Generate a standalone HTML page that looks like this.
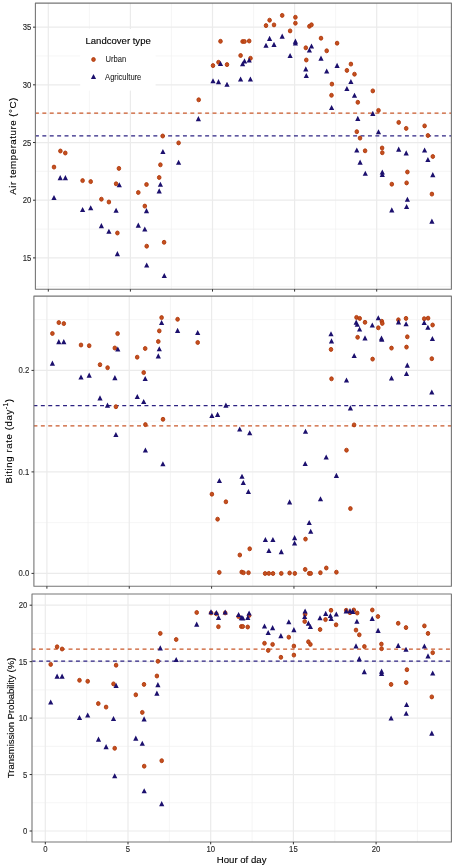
<!DOCTYPE html><html><head><meta charset="utf-8"><style>html,body{margin:0;padding:0;background:#fff;width:454px;height:867px;overflow:hidden}svg{display:block;filter:blur(0.35px)}text{font-family:"Liberation Sans",sans-serif}</style></head><body>
<svg width="454" height="867" viewBox="0 0 454 867">
<rect width="454" height="867" fill="#fff"/>
<path d="M89.35,3.1V289.2M171.45,3.1V289.2M253.55,3.1V289.2M335.65,3.1V289.2M417.75,3.1V289.2M35.4,286.74H451.4M35.4,229.06H451.4M35.4,171.37H451.4M35.4,113.68H451.4M35.4,55.99H451.4" stroke="#f0f0f0" stroke-width="0.7" fill="none"/>
<path d="M48.3,3.1V289.2M130.4,3.1V289.2M212.5,3.1V289.2M294.6,3.1V289.2M376.7,3.1V289.2M35.4,257.9H451.4M35.4,200.21H451.4M35.4,142.53H451.4M35.4,84.84H451.4M35.4,27.15H451.4" stroke="#ebebeb" stroke-width="1.2" fill="none"/>
<rect x="80.2" y="29.0" width="75.4" height="61.6" fill="#fff"/>
<line x1="35.4" y1="113" x2="451.4" y2="113" stroke="#c9582a" stroke-width="1.25" stroke-dasharray="3.95 3.45" stroke-dashoffset="0.45"/>
<line x1="35.4" y1="135.9" x2="451.4" y2="135.9" stroke="#2c2282" stroke-width="1.25" stroke-dasharray="3.95 3.45" stroke-dashoffset="0.45"/>
<g fill="#c4501f" stroke="#b0380a" stroke-width="0.9"><ellipse cx="54" cy="167.1" rx="1.8" ry="2.0"/><ellipse cx="60.4" cy="151" rx="1.8" ry="2.0"/><ellipse cx="65.3" cy="153" rx="1.8" ry="2.0"/><ellipse cx="82.6" cy="180.6" rx="1.8" ry="2.0"/><ellipse cx="90.7" cy="181.6" rx="1.8" ry="2.0"/><ellipse cx="101.4" cy="199.2" rx="1.8" ry="2.0"/><ellipse cx="108.9" cy="202" rx="1.8" ry="2.0"/><ellipse cx="116.1" cy="183.8" rx="1.8" ry="2.0"/><ellipse cx="118.9" cy="168.4" rx="1.8" ry="2.0"/><ellipse cx="117.4" cy="233" rx="1.8" ry="2.0"/><ellipse cx="138.3" cy="192.5" rx="1.8" ry="2.0"/><ellipse cx="144.8" cy="206.1" rx="1.8" ry="2.0"/><ellipse cx="146.5" cy="184.5" rx="1.8" ry="2.0"/><ellipse cx="146.7" cy="246.2" rx="1.8" ry="2.0"/><ellipse cx="159.2" cy="177.5" rx="1.8" ry="2.0"/><ellipse cx="160.4" cy="164.8" rx="1.8" ry="2.0"/><ellipse cx="162.7" cy="136" rx="1.8" ry="2.0"/><ellipse cx="164.1" cy="242.3" rx="1.8" ry="2.0"/><ellipse cx="178.6" cy="142.9" rx="1.8" ry="2.0"/><ellipse cx="198.7" cy="99.8" rx="1.8" ry="2.0"/><ellipse cx="213" cy="65.6" rx="1.8" ry="2.0"/><ellipse cx="218.5" cy="62.3" rx="1.8" ry="2.0"/><ellipse cx="220.5" cy="41.3" rx="1.8" ry="2.0"/><ellipse cx="227" cy="64.6" rx="1.8" ry="2.0"/><ellipse cx="240.6" cy="55.5" rx="1.8" ry="2.0"/><ellipse cx="242.6" cy="41.5" rx="1.8" ry="2.0"/><ellipse cx="244.5" cy="41.5" rx="1.8" ry="2.0"/><ellipse cx="249.2" cy="41" rx="1.8" ry="2.0"/><ellipse cx="250.5" cy="58.3" rx="1.8" ry="2.0"/><ellipse cx="266" cy="25.6" rx="1.8" ry="2.0"/><ellipse cx="269.6" cy="20.2" rx="1.8" ry="2.0"/><ellipse cx="274" cy="24.9" rx="1.8" ry="2.0"/><ellipse cx="282.2" cy="15.4" rx="1.8" ry="2.0"/><ellipse cx="290.1" cy="30.9" rx="1.8" ry="2.0"/><ellipse cx="295.4" cy="17.3" rx="1.8" ry="2.0"/><ellipse cx="295.4" cy="23.2" rx="1.8" ry="2.0"/><ellipse cx="305.8" cy="47.8" rx="1.8" ry="2.0"/><ellipse cx="306.3" cy="60" rx="1.8" ry="2.0"/><ellipse cx="309.4" cy="26.3" rx="1.8" ry="2.0"/><ellipse cx="311.5" cy="24.8" rx="1.8" ry="2.0"/><ellipse cx="321" cy="38.2" rx="1.8" ry="2.0"/><ellipse cx="326.7" cy="50.8" rx="1.8" ry="2.0"/><ellipse cx="331.9" cy="84.1" rx="1.8" ry="2.0"/><ellipse cx="331.5" cy="95.3" rx="1.8" ry="2.0"/><ellipse cx="337.1" cy="43.2" rx="1.8" ry="2.0"/><ellipse cx="346.9" cy="70.4" rx="1.8" ry="2.0"/><ellipse cx="350.9" cy="64.1" rx="1.8" ry="2.0"/><ellipse cx="354.5" cy="74.2" rx="1.8" ry="2.0"/><ellipse cx="356.8" cy="131.7" rx="1.8" ry="2.0"/><ellipse cx="357.8" cy="102.3" rx="1.8" ry="2.0"/><ellipse cx="360" cy="138.1" rx="1.8" ry="2.0"/><ellipse cx="365.1" cy="150.8" rx="1.8" ry="2.0"/><ellipse cx="372.8" cy="90.9" rx="1.8" ry="2.0"/><ellipse cx="378.5" cy="110.4" rx="1.8" ry="2.0"/><ellipse cx="382.1" cy="148" rx="1.8" ry="2.0"/><ellipse cx="382.3" cy="152.7" rx="1.8" ry="2.0"/><ellipse cx="391.8" cy="184.2" rx="1.8" ry="2.0"/><ellipse cx="398.7" cy="122.4" rx="1.8" ry="2.0"/><ellipse cx="406.2" cy="128.4" rx="1.8" ry="2.0"/><ellipse cx="406.6" cy="182.9" rx="1.8" ry="2.0"/><ellipse cx="407.4" cy="172" rx="1.8" ry="2.0"/><ellipse cx="424.6" cy="125.9" rx="1.8" ry="2.0"/><ellipse cx="427.9" cy="135.5" rx="1.8" ry="2.0"/><ellipse cx="431.9" cy="194.1" rx="1.8" ry="2.0"/><ellipse cx="432.8" cy="156.5" rx="1.8" ry="2.0"/></g>
<path fill="#1c106e" d="M54,195l2.6,5.1h-5.2zM60.2,175.1l2.6,5.1h-5.2zM65.4,175.1l2.6,5.1h-5.2zM82.6,206.9l2.6,5.1h-5.2zM90.7,205.2l2.6,5.1h-5.2zM101.4,223.1l2.6,5.1h-5.2zM108.9,228.7l2.6,5.1h-5.2zM116.1,207.7l2.6,5.1h-5.2zM117.4,251.1l2.6,5.1h-5.2zM119.3,182.2l2.6,5.1h-5.2zM138.3,222.6l2.6,5.1h-5.2zM144.8,226.5l2.6,5.1h-5.2zM146.5,208.1l2.6,5.1h-5.2zM146.7,262.4l2.6,5.1h-5.2zM159.2,188.3l2.6,5.1h-5.2zM160.4,181.7l2.6,5.1h-5.2zM162.9,148.9l2.6,5.1h-5.2zM164.3,273l2.6,5.1h-5.2zM178.6,159.7l2.6,5.1h-5.2zM198.4,116.1l2.6,5.1h-5.2zM213,78.2l2.6,5.1h-5.2zM218.5,79.1l2.6,5.1h-5.2zM220.5,61l2.6,5.1h-5.2zM227,81.7l2.6,5.1h-5.2zM240.6,76.4l2.6,5.1h-5.2zM242.6,61.2l2.6,5.1h-5.2zM244.5,58.3l2.6,5.1h-5.2zM249.2,57.4l2.6,5.1h-5.2zM250.4,76.4l2.6,5.1h-5.2zM266,42.7l2.6,5.1h-5.2zM269.6,35.8l2.6,5.1h-5.2zM274,41.8l2.6,5.1h-5.2zM282.2,33.6l2.6,5.1h-5.2zM290.1,53l2.6,5.1h-5.2zM295.4,38.6l2.6,5.1h-5.2zM295.4,40.5l2.6,5.1h-5.2zM305.8,66.3l2.6,5.1h-5.2zM306.3,73l2.6,5.1h-5.2zM309.4,47.5l2.6,5.1h-5.2zM311.5,43.4l2.6,5.1h-5.2zM321,55.6l2.6,5.1h-5.2zM326.7,68.5l2.6,5.1h-5.2zM331.6,105l2.6,5.1h-5.2zM337.1,62.8l2.6,5.1h-5.2zM346.9,86l2.6,5.1h-5.2zM350.9,79l2.6,5.1h-5.2zM354.5,92.7l2.6,5.1h-5.2zM356.8,147.5l2.6,5.1h-5.2zM357.8,115.8l2.6,5.1h-5.2zM360.1,159.6l2.6,5.1h-5.2zM365.3,170.7l2.6,5.1h-5.2zM372.8,110.8l2.6,5.1h-5.2zM378.5,129.2l2.6,5.1h-5.2zM382.3,169.5l2.6,5.1h-5.2zM382.3,172l2.6,5.1h-5.2zM391.8,207.3l2.6,5.1h-5.2zM398.7,146.6l2.6,5.1h-5.2zM406.2,150.3l2.6,5.1h-5.2zM406.6,204l2.6,5.1h-5.2zM407.4,196.7l2.6,5.1h-5.2zM424.6,147.4l2.6,5.1h-5.2zM427.9,157l2.6,5.1h-5.2zM431.9,218.6l2.6,5.1h-5.2zM432.8,172.1l2.6,5.1h-5.2z"/>
<rect x="35.4" y="3.1" width="416" height="286.1" fill="none" stroke="#767676" stroke-width="1.1" stroke-linejoin="round"/>
<path d="M33,257.9H35.4M33,200.21H35.4M33,142.53H35.4M33,84.84H35.4M33,27.15H35.4M48.3,289.2V291.6M130.4,289.2V291.6M212.5,289.2V291.6M294.6,289.2V291.6M376.7,289.2V291.6" stroke="#333" stroke-width="1" fill="none"/>
<text transform="translate(31.3,260.9) scale(1,1.15)" font-size="7.75" fill="#2a2a2a" stroke="#2a2a2a" stroke-width="0.12" text-anchor="end">15</text>
<text transform="translate(31.3,203.21) scale(1,1.15)" font-size="7.75" fill="#2a2a2a" stroke="#2a2a2a" stroke-width="0.12" text-anchor="end">20</text>
<text transform="translate(31.3,145.53) scale(1,1.15)" font-size="7.75" fill="#2a2a2a" stroke="#2a2a2a" stroke-width="0.12" text-anchor="end">25</text>
<text transform="translate(31.3,87.84) scale(1,1.15)" font-size="7.75" fill="#2a2a2a" stroke="#2a2a2a" stroke-width="0.12" text-anchor="end">30</text>
<text transform="translate(31.3,30.15) scale(1,1.15)" font-size="7.75" fill="#2a2a2a" stroke="#2a2a2a" stroke-width="0.12" text-anchor="end">35</text>
<path d="M88.07,296.1V586.3M170.42,296.1V586.3M252.78,296.1V586.3M335.12,296.1V586.3M417.47,296.1V586.3M33.9,522.65H451.4M33.9,421.15H451.4M33.9,319.65H451.4" stroke="#f0f0f0" stroke-width="0.7" fill="none"/>
<path d="M46.9,296.1V586.3M129.25,296.1V586.3M211.6,296.1V586.3M293.95,296.1V586.3M376.3,296.1V586.3M33.9,573.4H451.4M33.9,471.9H451.4M33.9,370.4H451.4" stroke="#ebebeb" stroke-width="1.2" fill="none"/>
<line x1="33.9" y1="405.6" x2="451.4" y2="405.6" stroke="#2c2282" stroke-width="1.25" stroke-dasharray="3.95 3.45" stroke-dashoffset="0.45"/>
<line x1="33.9" y1="425.9" x2="451.4" y2="425.9" stroke="#c9582a" stroke-width="1.25" stroke-dasharray="3.95 3.45" stroke-dashoffset="0.45"/>
<g fill="#c4501f" stroke="#b0380a" stroke-width="0.9"><ellipse cx="52.4" cy="333.5" rx="1.8" ry="2.0"/><ellipse cx="58.8" cy="322.6" rx="1.8" ry="2.0"/><ellipse cx="63.8" cy="323.6" rx="1.8" ry="2.0"/><ellipse cx="81" cy="345" rx="1.8" ry="2.0"/><ellipse cx="89.2" cy="345.7" rx="1.8" ry="2.0"/><ellipse cx="100" cy="364.7" rx="1.8" ry="2.0"/><ellipse cx="107.6" cy="367.7" rx="1.8" ry="2.0"/><ellipse cx="114.8" cy="348" rx="1.8" ry="2.0"/><ellipse cx="117.6" cy="333.6" rx="1.8" ry="2.0"/><ellipse cx="115.9" cy="406.7" rx="1.8" ry="2.0"/><ellipse cx="137.2" cy="357.2" rx="1.8" ry="2.0"/><ellipse cx="143.7" cy="372.6" rx="1.8" ry="2.0"/><ellipse cx="145.2" cy="348.5" rx="1.8" ry="2.0"/><ellipse cx="145.4" cy="424.6" rx="1.8" ry="2.0"/><ellipse cx="158.3" cy="341.5" rx="1.8" ry="2.0"/><ellipse cx="159.3" cy="330.9" rx="1.8" ry="2.0"/><ellipse cx="161.6" cy="317.6" rx="1.8" ry="2.0"/><ellipse cx="163" cy="419.3" rx="1.8" ry="2.0"/><ellipse cx="177.6" cy="319.3" rx="1.8" ry="2.0"/><ellipse cx="197.7" cy="342.5" rx="1.8" ry="2.0"/><ellipse cx="211.9" cy="494.2" rx="1.8" ry="2.0"/><ellipse cx="217.6" cy="519.2" rx="1.8" ry="2.0"/><ellipse cx="219.3" cy="572.4" rx="1.8" ry="2.0"/><ellipse cx="225.9" cy="501.8" rx="1.8" ry="2.0"/><ellipse cx="239.8" cy="555" rx="1.8" ry="2.0"/><ellipse cx="241.7" cy="572.1" rx="1.8" ry="2.0"/><ellipse cx="243.5" cy="572.7" rx="1.8" ry="2.0"/><ellipse cx="248.5" cy="572.7" rx="1.8" ry="2.0"/><ellipse cx="249.7" cy="548.8" rx="1.8" ry="2.0"/><ellipse cx="265.1" cy="573.5" rx="1.8" ry="2.0"/><ellipse cx="268.8" cy="573.4" rx="1.8" ry="2.0"/><ellipse cx="273" cy="573.5" rx="1.8" ry="2.0"/><ellipse cx="281.3" cy="573.4" rx="1.8" ry="2.0"/><ellipse cx="289.6" cy="573" rx="1.8" ry="2.0"/><ellipse cx="294.8" cy="573.4" rx="1.8" ry="2.0"/><ellipse cx="305.5" cy="539.1" rx="1.8" ry="2.0"/><ellipse cx="305.2" cy="569.4" rx="1.8" ry="2.0"/><ellipse cx="309.2" cy="573.4" rx="1.8" ry="2.0"/><ellipse cx="310.7" cy="573.4" rx="1.8" ry="2.0"/><ellipse cx="320.4" cy="572.7" rx="1.8" ry="2.0"/><ellipse cx="326.3" cy="568" rx="1.8" ry="2.0"/><ellipse cx="331" cy="349.4" rx="1.8" ry="2.0"/><ellipse cx="331.5" cy="378.8" rx="1.8" ry="2.0"/><ellipse cx="336.4" cy="572.2" rx="1.8" ry="2.0"/><ellipse cx="346.5" cy="450.2" rx="1.8" ry="2.0"/><ellipse cx="350.4" cy="508.6" rx="1.8" ry="2.0"/><ellipse cx="354.1" cy="424.9" rx="1.8" ry="2.0"/><ellipse cx="356.5" cy="317.4" rx="1.8" ry="2.0"/><ellipse cx="357.6" cy="337.3" rx="1.8" ry="2.0"/><ellipse cx="359.7" cy="318.4" rx="1.8" ry="2.0"/><ellipse cx="365" cy="322.3" rx="1.8" ry="2.0"/><ellipse cx="372.6" cy="359.1" rx="1.8" ry="2.0"/><ellipse cx="378.3" cy="327.8" rx="1.8" ry="2.0"/><ellipse cx="381.8" cy="321.3" rx="1.8" ry="2.0"/><ellipse cx="382.3" cy="323.4" rx="1.8" ry="2.0"/><ellipse cx="391.5" cy="348.1" rx="1.8" ry="2.0"/><ellipse cx="398.4" cy="319.8" rx="1.8" ry="2.0"/><ellipse cx="406" cy="318.4" rx="1.8" ry="2.0"/><ellipse cx="406.5" cy="347.1" rx="1.8" ry="2.0"/><ellipse cx="407.3" cy="336.8" rx="1.8" ry="2.0"/><ellipse cx="424.2" cy="318.7" rx="1.8" ry="2.0"/><ellipse cx="428.1" cy="318.2" rx="1.8" ry="2.0"/><ellipse cx="431.8" cy="358.7" rx="1.8" ry="2.0"/><ellipse cx="432.6" cy="325" rx="1.8" ry="2.0"/></g>
<path fill="#1c106e" d="M52.4,360.6l2.6,5.1h-5.2zM58.8,339.1l2.6,5.1h-5.2zM63.8,339.1l2.6,5.1h-5.2zM81,374.4l2.6,5.1h-5.2zM89.2,372.6l2.6,5.1h-5.2zM100,395.3l2.6,5.1h-5.2zM107.5,402.6l2.6,5.1h-5.2zM114.9,375.1l2.6,5.1h-5.2zM117.8,346.5l2.6,5.1h-5.2zM115.9,432l2.6,5.1h-5.2zM137.3,394l2.6,5.1h-5.2zM143.7,398.9l2.6,5.1h-5.2zM145.2,375.9l2.6,5.1h-5.2zM145.4,447.4l2.6,5.1h-5.2zM158.3,353.3l2.6,5.1h-5.2zM159.3,346.2l2.6,5.1h-5.2zM161.6,319.9l2.6,5.1h-5.2zM162.9,461.2l2.6,5.1h-5.2zM177.6,327.8l2.6,5.1h-5.2zM197.7,329.9l2.6,5.1h-5.2zM211.9,413l2.6,5.1h-5.2zM217.6,411.8l2.6,5.1h-5.2zM219.4,477.9l2.6,5.1h-5.2zM225.9,402.6l2.6,5.1h-5.2zM239.7,426.5l2.6,5.1h-5.2zM242,473.7l2.6,5.1h-5.2zM243.3,480l2.6,5.1h-5.2zM248.4,489l2.6,5.1h-5.2zM249.7,430.2l2.6,5.1h-5.2zM265.4,537l2.6,5.1h-5.2zM268.9,548l2.6,5.1h-5.2zM272.9,537l2.6,5.1h-5.2zM281.3,549.1l2.6,5.1h-5.2zM289.6,499.3l2.6,5.1h-5.2zM294.6,535.1l2.6,5.1h-5.2zM294.6,540.5l2.6,5.1h-5.2zM305.5,428.7l2.6,5.1h-5.2zM305.2,460.9l2.6,5.1h-5.2zM309.2,520l2.6,5.1h-5.2zM310.7,528.7l2.6,5.1h-5.2zM320.5,496.2l2.6,5.1h-5.2zM326.2,454.4l2.6,5.1h-5.2zM336.4,472.8l2.6,5.1h-5.2zM346.5,377.4l2.6,5.1h-5.2zM350.4,405.3l2.6,5.1h-5.2zM354.2,353l2.6,5.1h-5.2zM356.2,319.6l2.6,5.1h-5.2zM357.3,321.7l2.6,5.1h-5.2zM359.6,326.5l2.6,5.1h-5.2zM365,335.3l2.6,5.1h-5.2zM372.3,322.5l2.6,5.1h-5.2zM378.3,315.2l2.6,5.1h-5.2zM381.5,335.4l2.6,5.1h-5.2zM381.8,336.6l2.6,5.1h-5.2zM331,331.2l2.6,5.1h-5.2zM331.5,338.3l2.6,5.1h-5.2zM391.5,375.4l2.6,5.1h-5.2zM398.5,319.3l2.6,5.1h-5.2zM406.1,321.2l2.6,5.1h-5.2zM406.5,370.9l2.6,5.1h-5.2zM407.3,362.6l2.6,5.1h-5.2zM424.2,319.9l2.6,5.1h-5.2zM427.9,324.7l2.6,5.1h-5.2zM431.8,389.4l2.6,5.1h-5.2zM432.4,335.9l2.6,5.1h-5.2z"/>
<rect x="33.9" y="296.1" width="417.5" height="290.2" fill="none" stroke="#767676" stroke-width="1.1" stroke-linejoin="round"/>
<path d="M31.5,573.4H33.9M31.5,471.9H33.9M31.5,370.4H33.9M46.9,586.3V588.7M129.25,586.3V588.7M211.6,586.3V588.7M293.95,586.3V588.7M376.3,586.3V588.7" stroke="#333" stroke-width="1" fill="none"/>
<text transform="translate(29.3,576.4) scale(1,1.15)" font-size="7.75" fill="#2a2a2a" stroke="#2a2a2a" stroke-width="0.12" text-anchor="end">0.0</text>
<text transform="translate(29.3,474.9) scale(1,1.15)" font-size="7.75" fill="#2a2a2a" stroke="#2a2a2a" stroke-width="0.12" text-anchor="end">0.1</text>
<text transform="translate(29.3,373.4) scale(1,1.15)" font-size="7.75" fill="#2a2a2a" stroke="#2a2a2a" stroke-width="0.12" text-anchor="end">0.2</text>
<path d="M86.65,594V842M169.35,594V842M252.05,594V842M334.75,594V842M417.45,594V842M32,802.77H451.4M32,746.33H451.4M32,689.88H451.4M32,633.42H451.4" stroke="#f0f0f0" stroke-width="0.7" fill="none"/>
<path d="M45.3,594V842M128,594V842M210.7,594V842M293.4,594V842M376.1,594V842M32,831H451.4M32,774.55H451.4M32,718.1H451.4M32,661.65H451.4M32,605.2H451.4" stroke="#ebebeb" stroke-width="1.2" fill="none"/>
<line x1="32" y1="649" x2="451.4" y2="649" stroke="#c9582a" stroke-width="1.25" stroke-dasharray="3.95 3.45" stroke-dashoffset="0.45"/>
<line x1="32" y1="661.1" x2="451.4" y2="661.1" stroke="#2c2282" stroke-width="1.25" stroke-dasharray="3.95 3.45" stroke-dashoffset="0.45"/>
<g fill="#c4501f" stroke="#b0380a" stroke-width="0.9"><ellipse cx="50.7" cy="664.4" rx="1.8" ry="2.0"/><ellipse cx="57.1" cy="646.8" rx="1.8" ry="2.0"/><ellipse cx="62.1" cy="649" rx="1.8" ry="2.0"/><ellipse cx="79.5" cy="680.3" rx="1.8" ry="2.0"/><ellipse cx="87.7" cy="681.3" rx="1.8" ry="2.0"/><ellipse cx="98.3" cy="703.6" rx="1.8" ry="2.0"/><ellipse cx="106.1" cy="707.1" rx="1.8" ry="2.0"/><ellipse cx="113.5" cy="683.9" rx="1.8" ry="2.0"/><ellipse cx="116.1" cy="665.2" rx="1.8" ry="2.0"/><ellipse cx="114.7" cy="748.3" rx="1.8" ry="2.0"/><ellipse cx="135.8" cy="694.8" rx="1.8" ry="2.0"/><ellipse cx="142.3" cy="712.4" rx="1.8" ry="2.0"/><ellipse cx="144" cy="684.4" rx="1.8" ry="2.0"/><ellipse cx="144.2" cy="766.2" rx="1.8" ry="2.0"/><ellipse cx="156.9" cy="676" rx="1.8" ry="2.0"/><ellipse cx="157.9" cy="661.3" rx="1.8" ry="2.0"/><ellipse cx="160.3" cy="633.4" rx="1.8" ry="2.0"/><ellipse cx="161.7" cy="760.7" rx="1.8" ry="2.0"/><ellipse cx="176.2" cy="639.5" rx="1.8" ry="2.0"/><ellipse cx="196.7" cy="612.5" rx="1.8" ry="2.0"/><ellipse cx="211.1" cy="612.9" rx="1.8" ry="2.0"/><ellipse cx="216.3" cy="613.8" rx="1.8" ry="2.0"/><ellipse cx="218.4" cy="626.7" rx="1.8" ry="2.0"/><ellipse cx="225.2" cy="612.9" rx="1.8" ry="2.0"/><ellipse cx="238.6" cy="616.6" rx="1.8" ry="2.0"/><ellipse cx="241.3" cy="626.5" rx="1.8" ry="2.0"/><ellipse cx="242.8" cy="626.5" rx="1.8" ry="2.0"/><ellipse cx="247.7" cy="627" rx="1.8" ry="2.0"/><ellipse cx="249.1" cy="615.5" rx="1.8" ry="2.0"/><ellipse cx="264.5" cy="643.3" rx="1.8" ry="2.0"/><ellipse cx="268.2" cy="650.4" rx="1.8" ry="2.0"/><ellipse cx="272.6" cy="644.4" rx="1.8" ry="2.0"/><ellipse cx="280.9" cy="657.3" rx="1.8" ry="2.0"/><ellipse cx="288.8" cy="637.2" rx="1.8" ry="2.0"/><ellipse cx="293.9" cy="646.1" rx="1.8" ry="2.0"/><ellipse cx="293.9" cy="655.1" rx="1.8" ry="2.0"/><ellipse cx="305.1" cy="614.3" rx="1.8" ry="2.0"/><ellipse cx="304.7" cy="621.5" rx="1.8" ry="2.0"/><ellipse cx="308.4" cy="641.8" rx="1.8" ry="2.0"/><ellipse cx="310.4" cy="644.4" rx="1.8" ry="2.0"/><ellipse cx="320.1" cy="629.5" rx="1.8" ry="2.0"/><ellipse cx="325.5" cy="619.6" rx="1.8" ry="2.0"/><ellipse cx="331" cy="610.3" rx="1.8" ry="2.0"/><ellipse cx="336.1" cy="624.8" rx="1.8" ry="2.0"/><ellipse cx="346.2" cy="610.3" rx="1.8" ry="2.0"/><ellipse cx="350" cy="612.7" rx="1.8" ry="2.0"/><ellipse cx="353.8" cy="610" rx="1.8" ry="2.0"/><ellipse cx="357.2" cy="613" rx="1.8" ry="2.0"/><ellipse cx="356" cy="630.1" rx="1.8" ry="2.0"/><ellipse cx="359.3" cy="634.8" rx="1.8" ry="2.0"/><ellipse cx="364.4" cy="646.5" rx="1.8" ry="2.0"/><ellipse cx="372.3" cy="610" rx="1.8" ry="2.0"/><ellipse cx="377.9" cy="616.5" rx="1.8" ry="2.0"/><ellipse cx="381.4" cy="644.1" rx="1.8" ry="2.0"/><ellipse cx="381.6" cy="648.7" rx="1.8" ry="2.0"/><ellipse cx="391.1" cy="684.4" rx="1.8" ry="2.0"/><ellipse cx="398.2" cy="623.3" rx="1.8" ry="2.0"/><ellipse cx="406" cy="627.6" rx="1.8" ry="2.0"/><ellipse cx="406.9" cy="669.7" rx="1.8" ry="2.0"/><ellipse cx="406.2" cy="682.6" rx="1.8" ry="2.0"/><ellipse cx="424.4" cy="625.9" rx="1.8" ry="2.0"/><ellipse cx="428" cy="633.4" rx="1.8" ry="2.0"/><ellipse cx="432.7" cy="652.7" rx="1.8" ry="2.0"/><ellipse cx="431.8" cy="696.9" rx="1.8" ry="2.0"/></g>
<path fill="#1c106e" d="M50.7,699.4l2.6,5.1h-5.2zM57.1,673.6l2.6,5.1h-5.2zM62.1,673.6l2.6,5.1h-5.2zM79.5,714.9l2.6,5.1h-5.2zM87.7,712.4l2.6,5.1h-5.2zM98.5,736.6l2.6,5.1h-5.2zM106.1,744.1l2.6,5.1h-5.2zM113.5,715.9l2.6,5.1h-5.2zM116.1,682.8l2.6,5.1h-5.2zM114.7,773.2l2.6,5.1h-5.2zM135.8,735.6l2.6,5.1h-5.2zM142.3,740.7l2.6,5.1h-5.2zM144.1,716.3l2.6,5.1h-5.2zM144.2,788.2l2.6,5.1h-5.2zM156.9,690.6l2.6,5.1h-5.2zM157.9,682.1l2.6,5.1h-5.2zM160.3,645.3l2.6,5.1h-5.2zM161.7,801.1l2.6,5.1h-5.2zM176.2,656.9l2.6,5.1h-5.2zM196.7,621.6l2.6,5.1h-5.2zM211,609.2l2.6,5.1h-5.2zM216.4,610l2.6,5.1h-5.2zM218.5,614.8l2.6,5.1h-5.2zM225.2,609.5l2.6,5.1h-5.2zM238.6,612l2.6,5.1h-5.2zM241.4,615.1l2.6,5.1h-5.2zM242.8,615.3l2.6,5.1h-5.2zM247.8,615l2.6,5.1h-5.2zM249.1,610.5l2.6,5.1h-5.2zM264.5,623.5l2.6,5.1h-5.2zM268.2,630l2.6,5.1h-5.2zM272.6,625.1l2.6,5.1h-5.2zM280.9,633.1l2.6,5.1h-5.2zM288.8,619.2l2.6,5.1h-5.2zM293.9,627.1l2.6,5.1h-5.2zM305.1,608.5l2.6,5.1h-5.2zM304.7,613.9l2.6,5.1h-5.2zM308.4,620.6l2.6,5.1h-5.2zM310.4,623.9l2.6,5.1h-5.2zM320,615.2l2.6,5.1h-5.2zM325.7,610.8l2.6,5.1h-5.2zM330.4,613l2.6,5.1h-5.2zM331.2,615.8l2.6,5.1h-5.2zM336.3,611.4l2.6,5.1h-5.2zM346.2,608.4l2.6,5.1h-5.2zM350,608.1l2.6,5.1h-5.2zM352.8,608.8l2.6,5.1h-5.2zM356.9,618.7l2.6,5.1h-5.2zM356,643.3l2.6,5.1h-5.2zM359.3,656.1l2.6,5.1h-5.2zM364.3,669.1l2.6,5.1h-5.2zM372.2,615.8l2.6,5.1h-5.2zM378.1,627.8l2.6,5.1h-5.2zM381.6,668.6l2.6,5.1h-5.2zM381.6,670.8l2.6,5.1h-5.2zM391.1,715.5l2.6,5.1h-5.2zM398.2,642.8l2.6,5.1h-5.2zM406,646.7l2.6,5.1h-5.2zM406.6,702l2.6,5.1h-5.2zM406.2,710.7l2.6,5.1h-5.2zM424.4,643.5l2.6,5.1h-5.2zM428,653.3l2.6,5.1h-5.2zM432.7,670.4l2.6,5.1h-5.2zM431.8,730.6l2.6,5.1h-5.2z"/>
<rect x="32" y="594" width="419.4" height="248" fill="none" stroke="#767676" stroke-width="1.1" stroke-linejoin="round"/>
<path d="M29.6,831H32M29.6,774.55H32M29.6,718.1H32M29.6,661.65H32M29.6,605.2H32M45.3,842V844.4M128,842V844.4M210.7,842V844.4M293.4,842V844.4M376.1,842V844.4" stroke="#333" stroke-width="1" fill="none"/>
<text transform="translate(27.3,834) scale(1,1.15)" font-size="7.75" fill="#2a2a2a" stroke="#2a2a2a" stroke-width="0.12" text-anchor="end">0</text>
<text transform="translate(27.3,777.55) scale(1,1.15)" font-size="7.75" fill="#2a2a2a" stroke="#2a2a2a" stroke-width="0.12" text-anchor="end">5</text>
<text transform="translate(27.3,721.1) scale(1,1.15)" font-size="7.75" fill="#2a2a2a" stroke="#2a2a2a" stroke-width="0.12" text-anchor="end">10</text>
<text transform="translate(27.3,664.65) scale(1,1.15)" font-size="7.75" fill="#2a2a2a" stroke="#2a2a2a" stroke-width="0.12" text-anchor="end">15</text>
<text transform="translate(27.3,608.2) scale(1,1.15)" font-size="7.75" fill="#2a2a2a" stroke="#2a2a2a" stroke-width="0.12" text-anchor="end">20</text>
<text transform="translate(45.3,852.2) scale(1,1.15)" font-size="7.75" fill="#2a2a2a" stroke="#2a2a2a" stroke-width="0.12" text-anchor="middle">0</text>
<text transform="translate(128,852.2) scale(1,1.15)" font-size="7.75" fill="#2a2a2a" stroke="#2a2a2a" stroke-width="0.12" text-anchor="middle">5</text>
<text transform="translate(210.7,852.2) scale(1,1.15)" font-size="7.75" fill="#2a2a2a" stroke="#2a2a2a" stroke-width="0.12" text-anchor="middle">10</text>
<text transform="translate(293.4,852.2) scale(1,1.15)" font-size="7.75" fill="#2a2a2a" stroke="#2a2a2a" stroke-width="0.12" text-anchor="middle">15</text>
<text transform="translate(376.1,852.2) scale(1,1.15)" font-size="7.75" fill="#2a2a2a" stroke="#2a2a2a" stroke-width="0.12" text-anchor="middle">20</text>
<text transform="translate(241.6,862.9) scale(1,1.02)" font-size="9.62" fill="#000" stroke="#000" stroke-width="0.12" text-anchor="middle">Hour of day</text>
<text transform="translate(15.9,146.2) rotate(-90)" font-size="9.8" fill="#000" stroke="#000" stroke-width="0.12" text-anchor="middle" textLength="97" lengthAdjust="spacing">Air temperature (°C)</text>
<text transform="translate(12.1,441.2) rotate(-90)" font-size="9.6" fill="#000" stroke="#000" stroke-width="0.12" text-anchor="middle" textLength="84.5" lengthAdjust="spacing">Biting rate (day<tspan font-size="6.6" dy="-4.2">-1</tspan><tspan dy="4.2">)</tspan></text>
<text transform="translate(14.0,717.9) rotate(-90)" font-size="9.5" fill="#000" stroke="#000" stroke-width="0.12" text-anchor="middle">Transmission Probability (%)</text>
<text transform="translate(85.5,44.1) scale(1,1.03)" font-size="9.55" fill="#000" stroke="#000" stroke-width="0.12">Landcover type</text>
<ellipse cx="93.5" cy="59.5" rx="1.8" ry="2.0" fill="#c4501f" stroke="#b0380a" stroke-width="0.9"/>
<path fill="#1c106e" d="M93.5,73.9l2.6,5.1h-5.2z"/>
<text transform="translate(105.5,62.3) scale(1,1.1)" font-size="7.6" fill="#222" stroke="#222" stroke-width="0.06">Urban</text>
<text transform="translate(105.1,79.6) scale(1,1.1)" font-size="7.6" fill="#222" stroke="#222" stroke-width="0.06">Agriculture</text>
</svg></body></html>
